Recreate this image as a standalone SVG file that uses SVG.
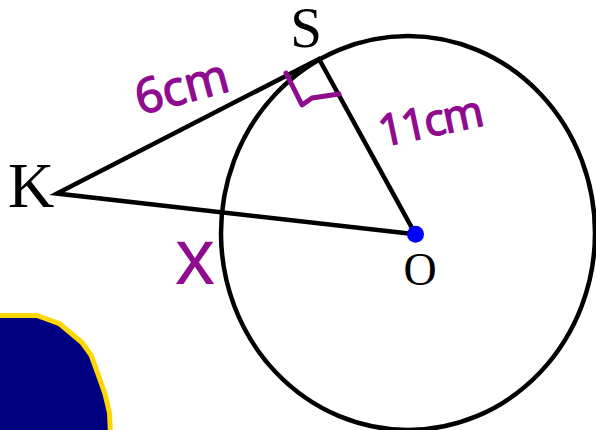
<svg xmlns="http://www.w3.org/2000/svg" width="596" height="430" viewBox="0 0 596 430">
<style>
.ln{fill:none;stroke:#000;stroke-width:4.5;stroke-linejoin:miter}
.lbl{font-family:"Liberation Serif",serif;fill:#000}
.hw{font-family:"Open Sans","Liberation Sans",sans-serif;fill:#8f0c8f;stroke:#8f0c8f;stroke-width:1.5;stroke-linejoin:round}
.mark{fill:none;stroke:#8f0c8f;stroke-width:5;stroke-linecap:round;stroke-linejoin:round}
</style>
<rect width="596" height="430" fill="#fff"/>
<path d="M-5,315.5 L37,315.5 L60,324 L82,342.5 L91,355 L99,377 L105,394 L109.5,413 L110.5,435 L-5,435 Z" fill="#000080" stroke="#ffd700" stroke-width="5" stroke-linejoin="miter"/>
<ellipse id="circle" cx="408" cy="233" rx="187" ry="197" fill="none" stroke="#000" stroke-width="4.5"/>
<g id="connectors">
<polygon class="ln" points="57,193.5 319,59 415.5,234.3"/>
</g>
<path class="mark" d="M286,73 L302,105 L312,98 L339,94"/>
<g id="node-K"><text class="lbl" x="31" y="206.5" font-size="64" text-anchor="middle">K</text></g>
<g id="node-S"><text class="lbl" x="306" y="47" font-size="57" text-anchor="middle">S</text></g>
<g id="node-O"><circle cx="415.5" cy="234.3" r="8.5" fill="#0000ff"/><text class="lbl" x="420" y="284.5" font-size="46" text-anchor="middle">O</text></g>
<text class="hw" x="140" y="115" font-size="48" transform="rotate(-15 140 115)">6cm</text>
<text class="hw" x="382" y="147" font-size="44" transform="rotate(-12 382 147)" letter-spacing="-2">11cm</text>
<text x="195" y="284" font-family="'Liberation Sans',sans-serif" font-size="80" fill="#8f0c8f" text-anchor="middle">x</text>
</svg>
